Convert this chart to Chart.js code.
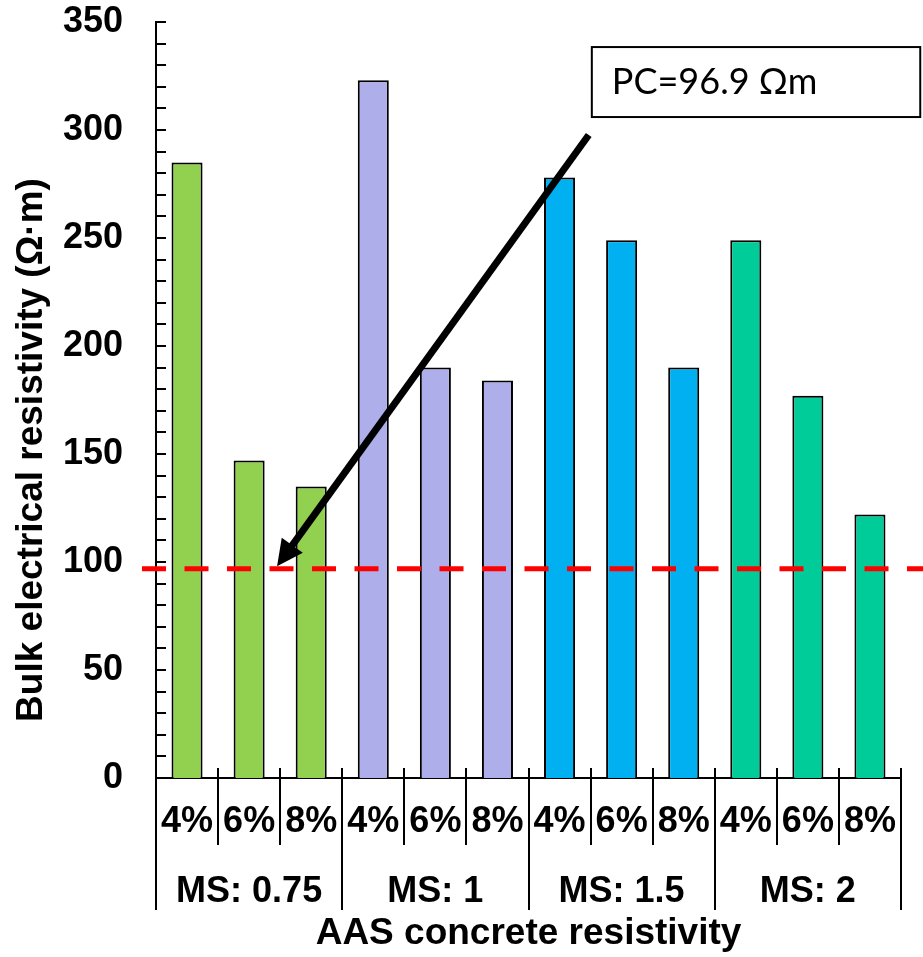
<!DOCTYPE html>
<html><head><meta charset="utf-8">
<script src="https://cdn.jsdelivr.net/npm/chart.js@4/dist/chart.umd.min.js"></script>
<style>html,body{margin:0;padding:0;background:#fff}#wrap{width:923px;height:957px;position:relative}</style>
</head><body><div id="wrap"><canvas id="c" width="923" height="957"></canvas></div>
<script>
// ---- data ----
const dosages = ['4%','6%','8%','4%','6%','8%','4%','6%','8%','4%','6%','8%'];
const groups = ['MS: 0.75','MS: 1','MS: 1.5','MS: 2'];
const resistivity = [285, 147, 135, 323, 190, 184, 278, 249, 190, 249, 177, 122];
const groupColors = ['#92D050','#AEAEEA','#00B0F0','#00CC99'];
const pcValue = 96.9;
const pcLabel = 'PC=96.9 \u03A9m';
const yTickValues = [0, 50, 100, 150, 200, 250, 300, 350];
const yTitle = 'Bulk electrical resistivity (\u03A9\u00B7m)';
const xTitle = 'AAS concrete resistivity';

const barColors = dosages.map((d, i) => groupColors[Math.floor(i / 3)]);
const FONT = '"Liberation Sans", Arial, sans-serif';

const deco = {
  id: 'deco',
  afterDatasetsDraw(chart) {
    const {ctx, chartArea: ca, scales: {x, y}} = chart;
    ctx.save();
    ctx.strokeStyle = '#000';
    ctx.lineWidth = 2;
    ctx.lineCap = 'butt';
    // minor inward ticks on y axis
    for (let v = 0; v <= yTickValues[yTickValues.length - 1]; v += 10) {
      const py = Math.round(y.getPixelForValue(v));
      ctx.beginPath(); ctx.moveTo(ca.left, py); ctx.lineTo(ca.left + 10, py); ctx.stroke();
    }
    // category separators
    const n = dosages.length;
    for (let i = 0; i <= n; i++) {
      const px = Math.round(x.getPixelForValue(i - 0.5));
      const isGroup = i % 3 === 0;
      const top = i === 0 ? ca.bottom : ca.bottom - 10;
      const bottom = isGroup ? ca.bottom + 132 : ca.bottom + 67;
      ctx.beginPath(); ctx.moveTo(px, top); ctx.lineTo(px, bottom); ctx.stroke();
    }
    // group labels
    ctx.fillStyle = '#000';
    ctx.font = 'bold 36px ' + FONT;
    ctx.textAlign = 'center';
    ctx.textBaseline = 'middle';
    groups.forEach((g, gi) => {
      const cx = x.getPixelForValue(gi * 3 + 1);
      ctx.fillText(g, cx, ca.bottom + 114);
    });
    // y title
    ctx.save();
    ctx.translate(31.5, (ca.top + ca.bottom) / 2 + 50);
    ctx.rotate(-Math.PI / 2);
    ctx.font = 'bold 37px ' + FONT;
    ctx.fillText(yTitle, 0, 0);
    ctx.restore();

    // PC reference dashed line
    const yp = y.getPixelForValue(pcValue);
    ctx.save();
    ctx.strokeStyle = '#FF0000';
    ctx.lineWidth = 5;
    ctx.setLineDash([24, 18.5]);
    ctx.beginPath(); ctx.moveTo(ca.left - 14, yp); ctx.lineTo(chart.width, yp); ctx.stroke();
    ctx.restore();

    // arrow
    const tx = x.getPixelForValue(1.45), ty = y.getPixelForValue(98);
    const sx = x.getPixelForValue(6.47), sy = y.getPixelForValue(297.7);
    const ang = Math.atan2(ty - sy, tx - sx);
    const headLen = 26, headW = 13;
    const bx = tx - headLen * Math.cos(ang), by = ty - headLen * Math.sin(ang);
    ctx.save();
    ctx.strokeStyle = '#000';
    ctx.lineWidth = 7;
    ctx.beginPath(); ctx.moveTo(sx, sy); ctx.lineTo(bx + 2 * Math.cos(ang), by + 2 * Math.sin(ang)); ctx.stroke();
    ctx.fillStyle = '#000';
    ctx.beginPath();
    ctx.moveTo(tx, ty);
    ctx.lineTo(bx + headW * Math.sin(ang), by - headW * Math.cos(ang));
    ctx.lineTo(bx - headW * Math.sin(ang), by + headW * Math.cos(ang));
    ctx.closePath(); ctx.fill();
    ctx.restore();

    // text box
    const l = x.getPixelForValue(6.52), r = x.getPixelForValue(11.81);
    const t = y.getPixelForValue(338.4), b = y.getPixelForValue(306);
    ctx.fillStyle = '#fff';
    ctx.fillRect(l, t, r - l, b - t);
    ctx.strokeStyle = '#000';
    ctx.lineWidth = 2;
    ctx.strokeRect(l, t, r - l, b - t);
    ctx.fillStyle = '#000';
    ctx.font = '36px Lato, "Open Sans", sans-serif';
    ctx.textAlign = 'left';
    ctx.textBaseline = 'alphabetic';
    ctx.fillText(pcLabel, l + 20, b - 23);
    ctx.restore();
  }
};

new Chart(document.getElementById('c'), {
  type: 'bar',
  data: {
    labels: dosages,
    datasets: [{
      data: resistivity,
      backgroundColor: barColors,
      borderColor: '#000',
      borderWidth: 2,
      barPercentage: 0.5,
      categoryPercentage: 1.0
    }]
  },
  options: {
    responsive: false,
    devicePixelRatio: 1,
    animation: false,
    layout: {padding: {top: 22, right: 22, left: 0, bottom: 0}},
    plugins: {legend: {display: false}, tooltip: {enabled: false}},
    scales: {
      x: {
        grid: {display: false, drawTicks: false, tickLength: 0},
        border: {display: true, color: '#000', width: 2},
        ticks: {color: '#000', font: {family: FONT, size: 36, weight: 'bold'}, padding: 22, maxRotation: 0, autoSkip: false},
        title: {display: true, text: xTitle, color: '#000', font: {family: FONT, size: 37, weight: 'bold', lineHeight: 1}, padding: {top: 0, bottom: 5}},
        afterFit(s) { s.height = 179; s.paddingLeft = 0; s.paddingRight = 0; }
      },
      y: {
        min: 0, max: 350,
        afterBuildTicks(s) { s.ticks = yTickValues.map(v => ({value: v})); },
        grid: {display: false, drawTicks: false, tickLength: 0},
        border: {display: true, color: '#000', width: 2},
        ticks: {color: '#000', font: {family: FONT, size: 36, weight: 'bold'}, padding: 33},
        afterFit(s) { s.width = 156; s.paddingTop = 0; s.paddingBottom = 0; }
      }
    }
  },
  plugins: [deco]
});
</script>
</body></html>
